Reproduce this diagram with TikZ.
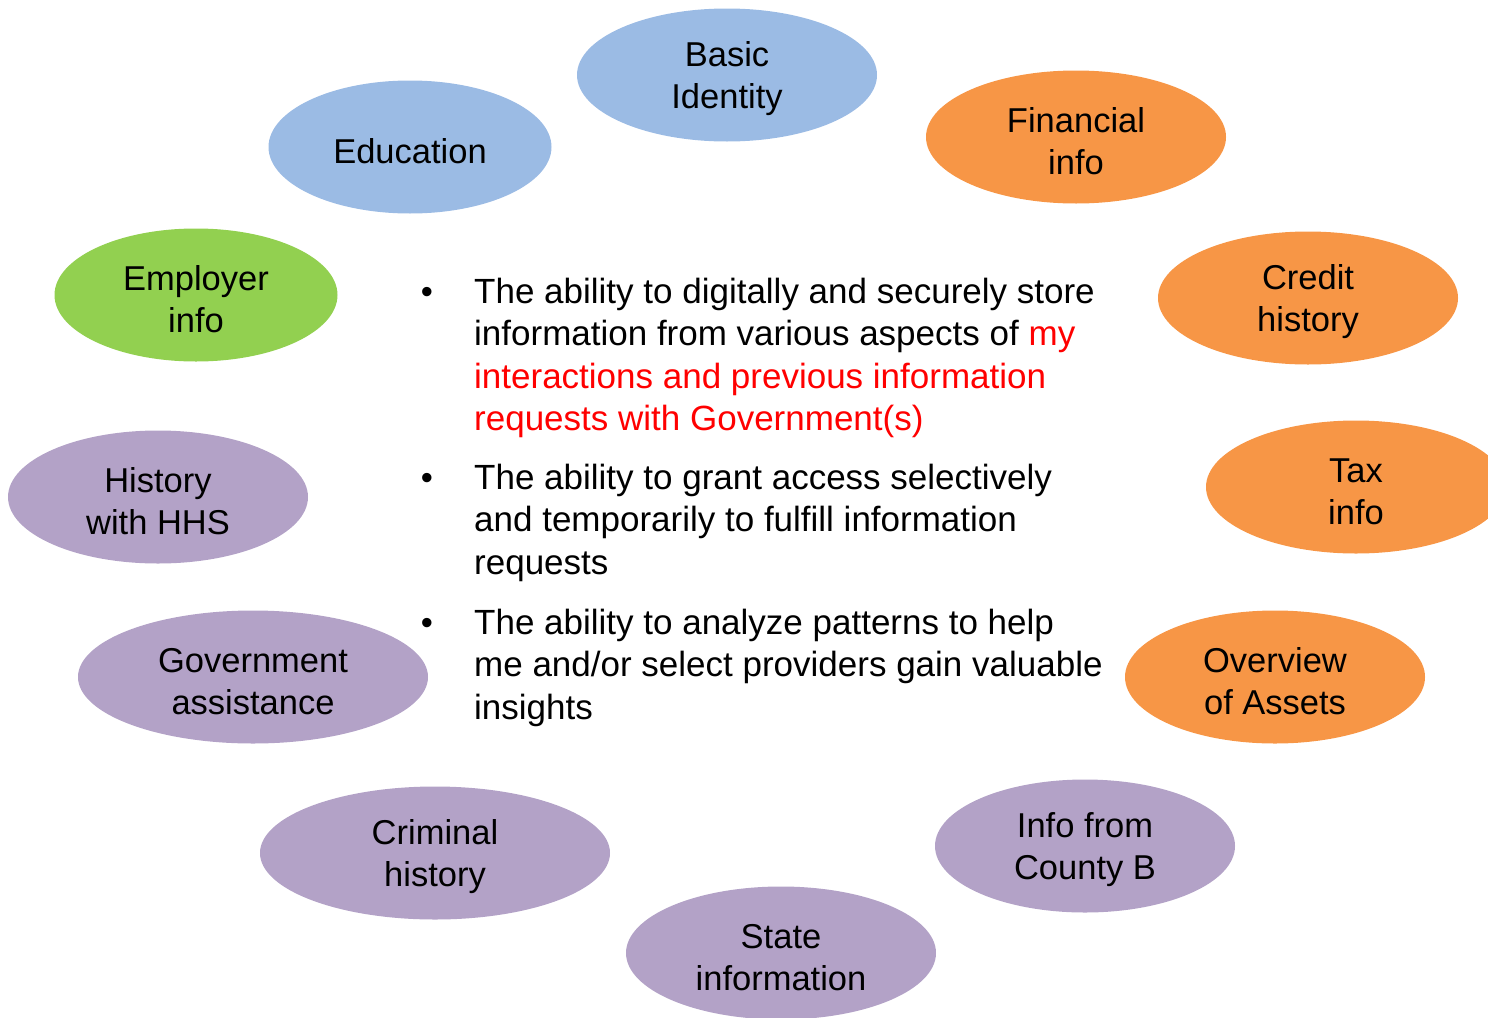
\documentclass[tikz,border=0pt]{standalone}
\usepackage{fontspec}
\setmainfont{Liberation Sans}
\usetikzlibrary{shapes.geometric}
\definecolor{cblue}{HTML}{9BBBE4}
\definecolor{corange}{HTML}{F79646}
\definecolor{cgreen}{HTML}{92D050}
\definecolor{cpurple}{HTML}{B3A2C7}
\definecolor{cred}{HTML}{FF0000}
\newcommand\bst{\rule{0pt}{33pt}}
\begin{document}
\begin{tikzpicture}[x=1pt,y=-1pt,
  bubble/.style={ellipse, draw=none, inner sep=0pt, align=center,
    font=\fontsize{34.5}{42}\selectfont},
  bw/.style={minimum width=300pt, minimum height=133pt},
  bn/.style={minimum width=283pt, minimum height=133pt},
  bg/.style={minimum width=350pt, minimum height=133pt},
  para/.style={anchor=north west, inner sep=0pt, align=left,
    font=\fontsize{35}{42.3}\selectfont},
  bullet/.style={anchor=base, inner sep=0pt, font=\fontsize{34.5}{42}\selectfont}]
\useasboundingbox (0,0) rectangle (1488,1017);
% bubbles
\node[bubble,bw,fill=cblue] (basic) at (727,75) {\bst Basic\\Identity};
\node[bubble,bn,fill=cblue] (edu) at (410,147) {\bst Education};
\node[bubble,bw,fill=corange] (fin) at (1076,137) {\bst Financial\\info};
\node[bubble,bn,fill=cgreen] (emp) at (196,295) {\bst Employer\\info};
\node[bubble,bw,fill=corange] (credit) at (1308,298) {\bst Credit\\history};
\node[bubble,bw,fill=cpurple] (hhs) at (158,497) {\bst History\\with HHS};
\node[bubble,bw,fill=corange] (tax) at (1356,487) {\bst Tax\\info};
\node[bubble,bg,fill=cpurple] (gov) at (253,677) {\bst Government\\assistance};
\node[bubble,bw,fill=corange] (assets) at (1275,677) {\bst Overview\\of Assets};
\node[bubble,bg,fill=cpurple] (crim) at (435,853) {\bst Criminal\\history};
\node[bubble,bw,fill=cpurple] (county) at (1085,846) {\bst Info from\\County B};
\node[bubble,minimum width=310pt,minimum height=133pt,fill=cpurple] (state) at (781,953) {\bst State\\information};
% bullets
\node[bullet] (b1) at (427,303) {\textbullet};
\node[bullet] (b2) at (427,489) {\textbullet};
\node[bullet] (b3) at (427,634) {\textbullet};
\node[para] (p1) at (474,278) {The ability to digitally and securely store\\
information from various aspects of \textcolor{cred}{my}\\
\textcolor{cred}{interactions and previous information}\\
\textcolor{cred}{requests with Government(s)}};
\node[para] (p2) at (474,464) {The ability to grant access selectively\\
and temporarily to fulfill information\\
requests};
\node[para] (p3) at (474,609) {The ability to analyze patterns to help\\
me and/or select providers gain valuable\\
insights};
\end{tikzpicture}
\end{document}
